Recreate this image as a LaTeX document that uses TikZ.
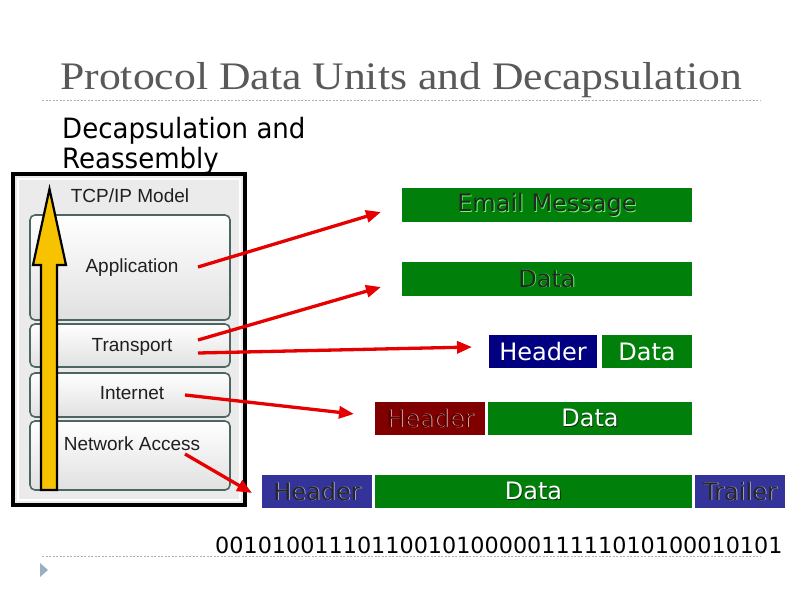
\documentclass[tikz,border=0pt]{standalone}
\usepackage{fontspec}
\setmainfont{DejaVu Sans}
\newfontfamily\titlefont{Liberation Serif}
\newfontfamily\arialfont{Liberation Sans}
\usetikzlibrary{arrows.meta,shadings}
\definecolor{titlegray}{HTML}{595959}
\definecolor{pdugreen}{HTML}{00800A}
\definecolor{pdunavy}{HTML}{000080}
\definecolor{pdured}{HTML}{800000}
\definecolor{pdublue}{HTML}{333399}
\definecolor{layeredge}{HTML}{4E6663}
\definecolor{arrowyellow}{HTML}{F7C200}
\definecolor{bulletblue}{HTML}{9AAEC4}
\definecolor{rulegray}{HTML}{A8B0B8}
\newcommand{\emboss}[3]{\makebox[0pt][l]{\hspace{0.8pt}\raisebox{-0.8pt}{\textcolor{#2}{#3}}}\textcolor{#1}{#3}}
\tikzset{
  pdu/.style={minimum height=34pt, inner sep=0pt, font=\fontsize{24}{26}\selectfont},
  layer/.style={draw=layeredge, line width=1.6pt, rounded corners=5pt, top color=white, bottom color=black!12},
  redarrow/.style={draw={rgb,255:red,230;green,0;blue,0}, line width=3.3pt, -{Triangle[length=15pt,width=12pt]}},
  dashrule/.style={draw=rulegray, dashed, dash pattern=on 2pt off 1.5pt, line width=0.6pt},
  layerlabel/.style={font=\arialfont\fontsize{19}{21}\selectfont, text=black!88}
}
\begin{document}
\begin{tikzpicture}[x=1pt,y=-1pt]
\useasboundingbox (0,0) rectangle (800,600);
\fill[white] (0,0) rectangle (800,600);
% title
\node[anchor=base west, inner sep=0pt, text=titlegray, font=\titlefont\fontsize{39}{41}\selectfont] (title) at (60,89) {\scalebox{1.12}[1]{Protocol Data Units and Decapsulation}};
\draw[dashrule] (42,100) -- (760,100);
\node[anchor=base west, inner sep=0pt, font=\fontsize{28}{31}\selectfont] (sub1) at (62,138) {\scalebox{0.93}[1]{Decapsulation and}};
\node[anchor=base west, inner sep=0pt, font=\fontsize{28}{31}\selectfont] (sub2) at (62,168) {\scalebox{0.93}[1]{Reassembly}};
% TCP/IP panel
\draw[line width=3.5pt, fill=black!8] (13,174) rectangle (245,505);
\draw[white, line width=1.5pt] (18,179) rectangle (240,500);
\node[layerlabel] (model) at (130,196) {TCP/IP Model};
\node[layer, minimum width=200pt, minimum height=105pt] (app) at (130,267.5) {};
\node[layer, minimum width=200pt, minimum height=43pt] (trans) at (130,345.5) {};
\node[layer, minimum width=200pt, minimum height=44pt] (inet) at (130,395) {};
\node[layer, minimum width=200pt, minimum height=69pt] (netacc) at (130,455.5) {};
\node[layerlabel] (appl) at (132,268) {Application};
\node[layerlabel] (transl) at (132,347) {Transport};
\node[layerlabel] (inetl) at (132,393) {Internet};
\node[layerlabel] (netaccl) at (132,444) {Network Access};
% yellow arrow
\draw[fill=arrowyellow, line width=2.2pt, line join=miter] (41,490) -- (41,265) -- (33,265) -- (49.5,189) -- (66,265) -- (57,265) -- (57,490) -- cycle;
% PDU boxes
\node[pdu, fill=pdugreen, minimum width=290pt] (email) at (547,205) {\emboss{black!85}{green!60!white}{Email Message}};
\node[pdu, fill=pdugreen, minimum width=290pt] (data2) at (547,279) {\emboss{black!85}{green!60!white}{Data}};
\node[pdu, fill=pdunavy, minimum width=108pt, minimum height=33pt] (h3) at (543,351.5) {\textcolor{white}{Header}};
\node[pdu, fill=pdugreen, minimum width=90pt, minimum height=33pt] (d3) at (647,351.5) {\textcolor{white}{Data}};
\node[pdu, fill=pdured, minimum width=110pt, minimum height=33pt] (h4) at (430,418.5) {\emboss{pdured!70!black}{white!85!pdured}{Header}};
\node[pdu, fill=pdugreen, minimum width=204pt, minimum height=33pt] (d4) at (590,418.5) {\emboss{white}{black!60!pdugreen}{Data}};
\node[pdu, fill=pdublue, minimum width=110pt, minimum height=33pt] (h5) at (317,491.5) {\emboss{black!85}{white!70!pdublue}{Header}};
\node[pdu, fill=pdugreen, minimum width=317pt, minimum height=33pt] (d5) at (533.5,491.5) {\emboss{white}{black!60!pdugreen}{Data}};
\node[pdu, fill=pdublue, minimum width=90pt, minimum height=33pt] (t5) at (740,491.5) {\emboss{black!85}{white!70!pdublue}{Trailer}};
% arrow end points
\coordinate (a1s) at (198,267); \coordinate (a1e) at (381,212);
\coordinate (a2s) at (198,340); \coordinate (a2e) at (381,287);
\coordinate (a3s) at (198,353); \coordinate (a3e) at (472,347);
\coordinate (a4s) at (185,395); \coordinate (a4e) at (354,414);
\coordinate (a5s) at (185,454); \coordinate (a5e) at (252,493);
\draw[redarrow] (a1s) -- (a1e);
\draw[redarrow] (a2s) -- (a2e);
\draw[redarrow] (a3s) -- (a3e);
\draw[redarrow] (a4s) -- (a4e);
\draw[redarrow] (a5s) -- (a5e);
% bits
\node[anchor=base west, inner sep=0pt, font=\fontsize{22.3}{24}\selectfont] (bits) at (215,553) {0010100111011001010000011111010100010101};
\draw[dashrule] (42,556) -- (760,556);
\fill[bulletblue] (40,563) -- (48,570) -- (40,577) -- cycle;
\end{tikzpicture}
\end{document}
